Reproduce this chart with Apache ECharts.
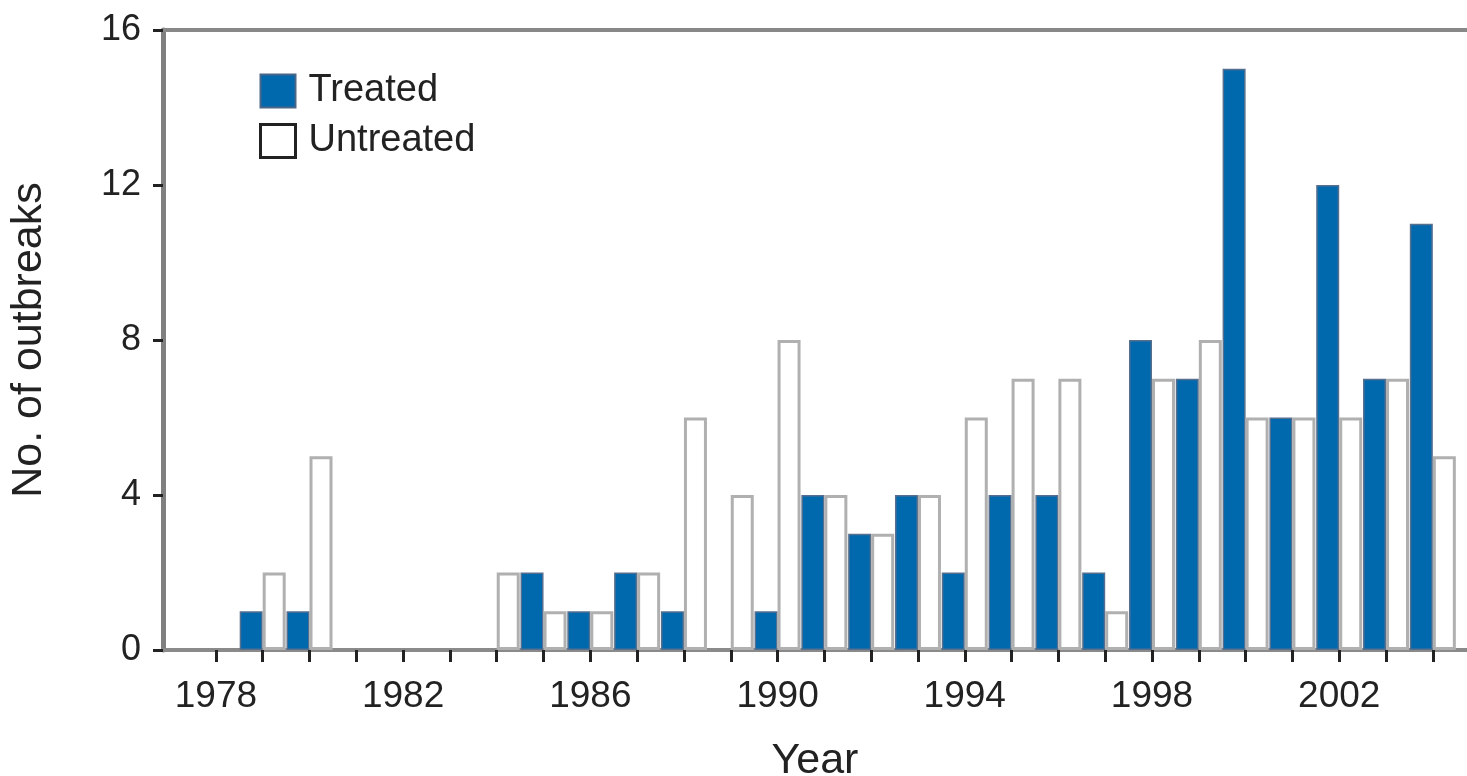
<!DOCTYPE html>
<html>
<head>
<meta charset="utf-8">
<script src="https://cdn.jsdelivr.net/npm/echarts@6/dist/echarts.min.js"></script>
<style>
html,body{margin:0;padding:0;background:#fff;}
#chart{width:1467px;height:776px;}
</style>
</head>
<body>
<div id="chart"></div>
<script>
const years = [1978,1979,1980,1981,1982,1983,1984,1985,1986,1987,1988,1989,1990,1991,1992,1993,1994,1995,1996,1997,1998,1999,2000,2001,2002,2003,2004];
const treated = [0,1,1,0,0,0,0,2,1,2,1,0,1,4,3,4,2,4,4,2,8,7,15,6,12,7,11];
const untreated = [0,2,5,0,0,0,2,1,1,2,6,4,8,4,3,4,6,7,7,1,7,8,6,6,6,7,5];
const labelYears = [1978,1982,1986,1990,1994,1998,2002];

const FONT = 'Liberation Sans, Arial, Helvetica, sans-serif';
const chart = echarts.init(document.getElementById('chart'));
chart.setOption({
  animation: false,
  backgroundColor: '#fff',
  textStyle: { fontFamily: FONT, color: '#222' },
  grid: { left: 163, right: 0, top: 30, bottom: 126, containLabel: false, outerBoundsMode: 'none' },
  legend: {
    orient: 'vertical',
    left: 254, top: 67,
    icon: 'rect',
    itemWidth: 35, itemHeight: 33, itemGap: 12,
    textStyle: { fontSize: 38, color: '#222', fontFamily: FONT, padding: [0,0,0,8] },
    data: [
      { name: 'Treated', itemStyle: { color: '#0068ad', borderColor: '#4a6688', borderWidth: 2 } },
      { name: 'Untreated', itemStyle: { color: '#fff', borderColor: '#222', borderWidth: 3 } }
    ]
  },
  xAxis: [{
    type: 'value',
    min: 1976.87, max: 2004.73,
    name: 'Year', nameLocation: 'middle', nameGap: 90,
    nameTextStyle: { fontSize: 43, color: '#222', fontFamily: FONT },
    splitLine: { show: false },
    axisLine: { show: true, lineStyle: { color: '#8a8a8a', width: 4 } },
    axisTick: { show: true, customValues: years, length: 12, lineStyle: { color: '#222', width: 3 } },
    axisLabel: { customValues: labelYears, formatter: v => String(v), fontSize: 37, color: '#222', margin: 28, fontFamily: FONT }
  }, {
    type: 'value', position: 'top',
    min: 1976.87, max: 2004.73,
    splitLine: { show: false },
    axisLine: { show: true, onZero: false, lineStyle: { color: '#888', width: 4 } },
    axisTick: { show: false }, axisLabel: { show: false }
  }],
  yAxis: {
    type: 'value', min: 0, max: 16, interval: 4,
    name: 'No. of outbreaks', nameLocation: 'middle', nameGap: 112,
    nameTextStyle: { fontSize: 43, color: '#222', fontFamily: FONT },
    splitLine: { show: false },
    axisLine: { show: true, lineStyle: { color: '#808080', width: 5 } },
    axisTick: { show: true, length: 10, lineStyle: { color: '#222', width: 3 } },
    axisLabel: { fontSize: 36, color: '#222', margin: 22, fontFamily: FONT }
  },
  series: [{
    name: 'Treated', type: 'bar', xAxisIndex: 0,
    barWidth: 23, barGap: '0%',
    data: years.map((y, i) => [y, treated[i] === 0 ? null : treated[i]]),
    itemStyle: { color: '#0068ad', borderColor: '#566f8e', borderWidth: 1.5 }
  }, {
    name: 'Untreated', type: 'bar', xAxisIndex: 0,
    barWidth: 23, barGap: '0%',
    data: years.map((y, i) => [y, untreated[i] === 0 ? null : untreated[i]]),
    itemStyle: { color: '#fff', borderColor: '#b0b0b0', borderWidth: 3 }
  }]
});
</script>
</body>
</html>
